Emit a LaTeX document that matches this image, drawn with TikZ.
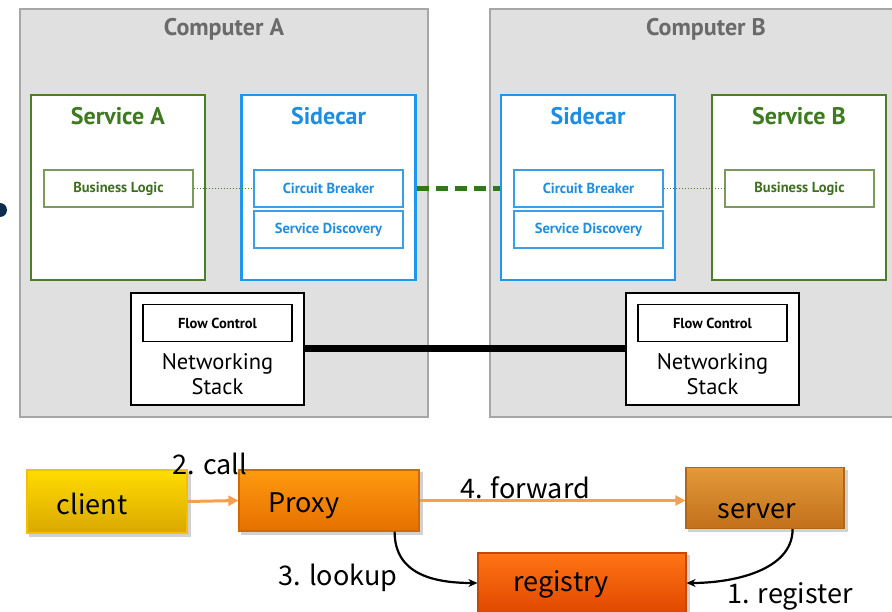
\documentclass[tikz,border=0pt]{standalone}
\usepackage{fontspec}
\setmainfont{PT Sans}
\newfontfamily\yh{Noto Sans CJK SC}
\usetikzlibrary{arrows.meta,calc}
\definecolor{compfill}{HTML}{E0E0E0}
\definecolor{compdraw}{HTML}{A6A6A6}
\definecolor{compText}{HTML}{6A6A6A}
\definecolor{svcgreen}{HTML}{4A7F26}
\definecolor{svctext}{HTML}{3E7A20}
\definecolor{blgreen}{HTML}{7C9A5C}
\definecolor{bltext}{HTML}{3F6F1F}
\definecolor{scblue}{HTML}{2196EE}
\definecolor{sctext}{HTML}{1E8EE0}
\definecolor{cbblue}{HTML}{3A9FE6}
\definecolor{dashgreen}{HTML}{2E7A18}
\definecolor{arrorange}{HTML}{F4A050}
\definecolor{navyblob}{HTML}{0E2C4E}
\definecolor{cliTop}{HTML}{FFDC00}
\definecolor{cliBot}{HTML}{D9A800}
\definecolor{cliDraw}{HTML}{F2C200}
\definecolor{prxTop}{HTML}{FF9A10}
\definecolor{prxBot}{HTML}{E57000}
\definecolor{prxDraw}{HTML}{D06A00}
\definecolor{srvTop}{HTML}{E39A3A}
\definecolor{srvBot}{HTML}{C2701A}
\definecolor{srvDraw}{HTML}{B06518}
\definecolor{regTop}{HTML}{FF7414}
\definecolor{regBot}{HTML}{E04800}
\definecolor{regDraw}{HTML}{C84800}
\tikzset{
  comp/.style={draw=compdraw,fill=compfill,line width=1.4pt,minimum width=408pt,minimum height=408pt,inner sep=0pt},
  svcbox/.style={draw=svcgreen,fill=white,line width=2.4pt,minimum width=174pt,minimum height=185pt,inner sep=0pt},
  carbox/.style={draw=scblue,fill=white,line width=2.4pt,minimum width=174pt,minimum height=185pt,inner sep=0pt},
  blbox/.style={draw=blgreen,line width=1.2pt,minimum width=149pt,minimum height=37pt,inner sep=0pt,text=bltext,font=\bfseries\fontsize{14.5}{16}\selectfont},
  cbbox/.style={draw=cbblue,line width=1.5pt,minimum width=149pt,minimum height=37pt,inner sep=0pt,text=sctext,font=\bfseries\fontsize{14.5}{16}\selectfont},
  nsbox/.style={draw=black,fill=white,line width=1.3pt,minimum width=173pt,minimum height=112pt,inner sep=0pt},
  fcbox/.style={draw=black,line width=1.3pt,minimum width=149pt,minimum height=37pt,inner sep=0pt,font=\bfseries\fontsize{14.5}{16}\selectfont},
  comptitle/.style={text=compText,font=\bfseries\fontsize{24}{26}\selectfont},
  svctitle/.style={text=svctext,font=\bfseries\fontsize{24}{26}\selectfont},
  cartitle/.style={text=sctext,font=\bfseries\fontsize{24}{26}\selectfont},
  nstext/.style={font=\fontsize{22.5}{25.5}\selectfont,align=center},
  flowbox/.style={inner sep=0pt,line width=1.2pt},
  flowtext/.style={font=\yh\fontsize{27}{30}\selectfont,text=black},
  orangearrow/.style={draw=arrorange,line width=3pt,-{Triangle[length=10pt,width=10pt]}},
  blackarrow/.style={draw=black,line width=2.2pt,-{Stealth[length=9pt,width=8pt]}},
  shade/.style={fill=black,opacity=0.18},
}
\begin{document}
\begin{tikzpicture}[x=1pt,y=-1pt]
\useasboundingbox (0,0) rectangle (892,612);
\clip (0,0) rectangle (892,612);
\fill[white] (0,0) rectangle (892,612);
% blob at left edge
\fill[navyblob] (0,210) circle (7);
% computers
\node[comp] (compA) at (224,213) {};
\node[comp] (compB) at (694,213) {};
\node[comptitle] (compAt) at (224,29) {Computer A};
\node[comptitle] (compBt) at (706,29) {Computer B};
% services and sidecars
\node[svcbox] (svcA) at (118,187.5) {};
\node[carbox] (carA) at (328.5,187.5) {};
\node[carbox] (carB) at (588,187.5) {};
\node[svcbox] (svcB) at (799,187.5) {};
\node[svctitle] (svcAt) at (118,116) {Service A};
\node[cartitle] (carAt) at (328.5,116) {Sidecar};
\node[cartitle] (carBt) at (588,116) {Sidecar};
\node[svctitle] (svcBt) at (799,116) {Service B};
\node[blbox] (blA) at (118.5,188.5) {Business Logic};
\node[cbbox] (cbA) at (328.5,188.5) {Circuit Breaker};
\node[cbbox] (sdA) at (328.5,229.5) {Service Discovery};
\node[cbbox] (cbB) at (588.5,188.5) {Circuit Breaker};
\node[cbbox] (sdB) at (588.5,229.5) {Service Discovery};
\node[blbox] (blB) at (799.5,188.5) {Business Logic};
% networking stacks
\node[nsbox] (nsA) at (217.5,349) {};
\node[nsbox] (nsB) at (712.5,349) {};
\node[fcbox] (fcA) at (217.5,323) {Flow Control};
\node[fcbox] (fcB) at (712.5,323) {Flow Control};
\node[nstext] (nsAt) at (217.5,374) {Networking\\Stack};
\node[nstext] (nsBt) at (712.5,374) {Networking\\Stack};
% connectors top
\draw[dotted,line width=1pt,draw=svcgreen] (blA.east) -- (cbA.west);
\draw[dotted,line width=1pt,draw=svcgreen] (cbB.east) -- (blB.west);
\draw[dashgreen,line width=5pt,dash pattern=on 12pt off 7pt] (carA.east |- cbA.east) -- (carB.west |- cbB.west);
\draw[black,line width=7pt] (nsA.east) -- (nsB.west);
% bottom flow: soft shadows
\fill[shade] (29,472) rectangle (191,537);
\fill[shade] (241,472) rectangle (423,535);
\fill[shade] (688,470) rectangle (848,532);
\fill[shade] (480,555) rectangle (690,615);
\node[flowbox,draw=cliDraw,top color=cliTop,bottom color=cliBot,minimum width=160pt,minimum height=63pt] (client) at (107,501.5) {};
\node[flowbox,draw=prxDraw,top color=prxTop,bottom color=prxBot,minimum width=180pt,minimum height=61pt] (proxy) at (329,500.5) {};
\node[flowbox,draw=srvDraw,top color=srvTop,bottom color=srvBot,minimum width=158pt,minimum height=61pt] (server) at (765,498) {};
\node[flowbox,draw=regDraw,top color=regTop,bottom color=regBot,minimum width=208pt,minimum height=60pt] (registry) at (582,583) {};
\node[flowtext] (clientt) at (92,504) {client};
\node[flowtext] (proxyt) at (304,506) {Proxy};
\node[flowtext] (servert) at (757,511) {server};
\node[flowtext] (registryt) at (561,584) {registry};
\draw[orangearrow] (client.east) -- (proxy.west);
\draw[orangearrow,line width=2.5pt] (proxy.east) -- (proxy.east -| server.west);
\draw[blackarrow] ([xshift=-25pt]proxy.south east) .. controls +(0,42) and +(-45,0) .. (registry.west);
\draw[blackarrow] ([xshift=-52pt]server.south east) .. controls +(0,42) and +(45,0) .. (registry.east);
\node[flowtext] (callt) at (210,464) {2. call};
\node[flowtext] (fwdt) at (525,488) {4. forward};
\node[flowtext] (lookt) at (338,578) {3. lookup};
\node[flowtext] (regt) at (790,596) {1. register};
\end{tikzpicture}
\end{document}
